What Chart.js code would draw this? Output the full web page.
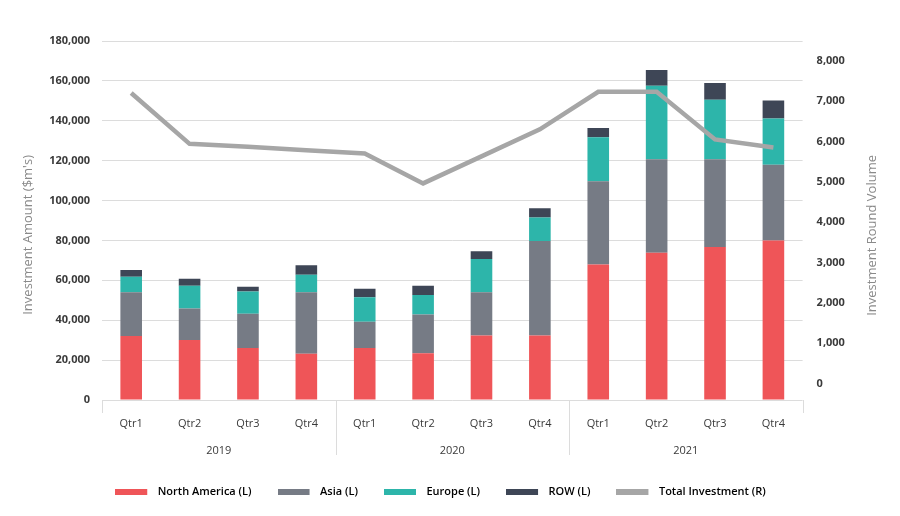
<!DOCTYPE html>
<html><head><meta charset="utf-8">
<script src="https://cdn.jsdelivr.net/npm/chart.js@4.4.1/dist/chart.umd.min.js"></script>
<style>html,body{margin:0;padding:0;background:#fff}#wrap{width:900px;height:516px;position:relative}</style>
</head><body><div id="wrap"><canvas id="c" width="900" height="516"></canvas></div>
<script>
const years = ['2019', '2020', '2021'];
const quarters = ['Qtr1', 'Qtr2', 'Qtr3', 'Qtr4'];
const categories = years.flatMap(() => quarters);

const northAmerica = [32100, 30100, 26100, 23200, 26100, 23400, 32300, 32300, 67900, 73800, 76700, 80000];
const asia         = [21900, 15800, 17200, 30800, 13100, 19500, 21700, 47400, 41800, 46900, 44000, 38000];
const europe       = [7800, 11400, 11100, 8800, 12300, 9800, 16700, 11800, 22000, 36900, 29800, 23100];
const row          = [3400, 3500, 2400, 4800, 4300, 4600, 3900, 4700, 4700, 7800, 8500, 9100];
const totalInvestment = [7200, 5940, 5870, 5780, 5700, 4960, 5630, 6300, 7230, 7230, 6050, 5850];

const leftTicks = [0, 20000, 40000, 60000, 80000, 100000, 120000, 140000, 160000, 180000];
const rightTicks = [0, 1000, 2000, 3000, 4000, 5000, 6000, 7000, 8000];

const leftTitle = "Investment Amount ($m's)";
const rightTitle = 'Investment Round Volume';

const COLORS = { na: '#ef5558', asia: '#767b85', europe: '#2db5aa', row: '#3e4656', total: '#a6a6a6' };
const FONT = "'Open Sans', 'DejaVu Sans', sans-serif";
const TICK_COLOR = '#3a3a3a';
const GRID = '#dcdcdc';

// legend swatch: a flat bar with a little transparent space after it
function swatch(color) {
  const c = document.createElement('canvas');
  c.width = 37; c.height = 6;
  const g = c.getContext('2d');
  g.fillStyle = color;
  g.fillRect(0, 0, 32, 6);
  return c;
}

const decor = {
  id: 'decor',
  afterDraw(chart) {
    const { ctx, chartArea, scales } = chart;
    const x = scales.x;
    ctx.save();
    ctx.strokeStyle = GRID;
    ctx.lineWidth = 1;
    const n = quarters.length;
    for (let g = 0; g <= years.length; g++) {
      let px, len;
      if (g === 0) { px = chartArea.left; len = 13; }
      else if (g === years.length) { px = chartArea.right; len = 13; }
      else { px = (x.getPixelForValue(g * n - 1) + x.getPixelForValue(g * n)) / 2; len = 55; }
      px = Math.round(px) + 0.5;
      ctx.beginPath();
      ctx.moveTo(px, chartArea.bottom);
      ctx.lineTo(px, chartArea.bottom + len);
      ctx.stroke();
    }
    ctx.fillStyle = '#8a8a8a';
    ctx.font = '13px ' + FONT;
    ctx.textAlign = 'right';
    ctx.textBaseline = 'middle';
    ctx.save();
    ctx.translate(28, chartArea.top + 114);
    ctx.rotate(-Math.PI / 2);
    ctx.fillText(leftTitle, 0, 0);
    ctx.restore();
    ctx.save();
    ctx.translate(872, chartArea.top + 114);
    ctx.rotate(-Math.PI / 2);
    ctx.fillText(rightTitle, 0, 0);
    ctx.restore();
    ctx.restore();
  }
};

const barDs = (label, data, color) => ({
  type: 'bar', label, data, backgroundColor: color, borderWidth: 0,
  xAxisID: 'x', yAxisID: 'y', stack: 'inv', order: 1,
  categoryPercentage: 1, barPercentage: 0.37
});

new Chart(document.getElementById('c'), {
  data: {
    labels: categories,
    datasets: [
      barDs('North America (L)', northAmerica, COLORS.na),
      barDs('Asia (L)', asia, COLORS.asia),
      barDs('Europe (L)', europe, COLORS.europe),
      barDs('ROW (L)', row, COLORS.row),
      {
        type: 'line', label: 'Total Investment (R)', data: totalInvestment,
        borderColor: COLORS.total, backgroundColor: COLORS.total, borderWidth: 4.5,
        pointRadius: 0, tension: 0, xAxisID: 'x', yAxisID: 'y1', order: 0,
        borderJoinStyle: 'miter', borderCapStyle: 'butt'
      }
    ]
  },
  options: {
    responsive: false,
    animation: false,
    devicePixelRatio: 1,
    layout: { padding: { top: 41, left: 0, right: 19, bottom: 9 } },
    plugins: {
      tooltip: { enabled: false },
      legend: {
        position: 'bottom',
        labels: {
          usePointStyle: true, pointStyleWidth: 37, boxHeight: 6, padding: 26,
          color: '#404040',
          font: { family: FONT, size: 11, weight: '600' },
          generateLabels(chart) {
            return chart.data.datasets.map((d, i) => {
              const col = d.type === 'line' ? d.borderColor : d.backgroundColor;
              return {
                text: d.label, fillStyle: col, strokeStyle: 'rgba(0,0,0,0)', lineWidth: 0,
                pointStyle: swatch(col), hidden: false, datasetIndex: i
              };
            });
          }
        }
      }
    },
    scales: {
      x: {
        type: 'category', position: 'bottom', labels: categories,
        grid: { display: false, drawTicks: false },
        border: { display: false },
        ticks: { color: TICK_COLOR, font: { family: FONT, size: 11 }, padding: 17, maxRotation: 0, autoSkip: false },
        afterFit(s) { s.height = 38; }
      },
      x2: {
        type: 'category', position: 'bottom', labels: years, offset: true,
        grid: { display: false, drawTicks: false },
        border: { display: false },
        ticks: { color: TICK_COLOR, font: { family: FONT, size: 11 }, padding: 6, maxRotation: 0 },
        afterFit(s) { s.height = 22; }
      },
      y: {
        position: 'left', min: 0, max: 180000,
        grid: { color: GRID, drawTicks: false },
        border: { display: false },
        ticks: {
          stepSize: 20000, padding: 12, color: TICK_COLOR,
          font: { family: FONT, size: 11, weight: 'bold' },
          callback: v => v.toLocaleString('en-US')
        },
        afterBuildTicks(s) { s.ticks = leftTicks.map(v => ({ value: v })); },
        afterFit(s) { s.width = 102; }
      },
      y1: {
        position: 'right', min: -410, max: 8490,
        grid: { drawOnChartArea: false, drawTicks: false },
        border: { display: false },
        ticks: {
          padding: 14, color: TICK_COLOR,
          font: { family: FONT, size: 11, weight: 'bold' },
          callback: v => v.toLocaleString('en-US')
        },
        afterBuildTicks(s) { s.ticks = rightTicks.map(v => ({ value: v })); },
        afterFit(s) { s.width = 78.4; }
      }
    }
  },
  plugins: [decor]
});
</script></body></html>
